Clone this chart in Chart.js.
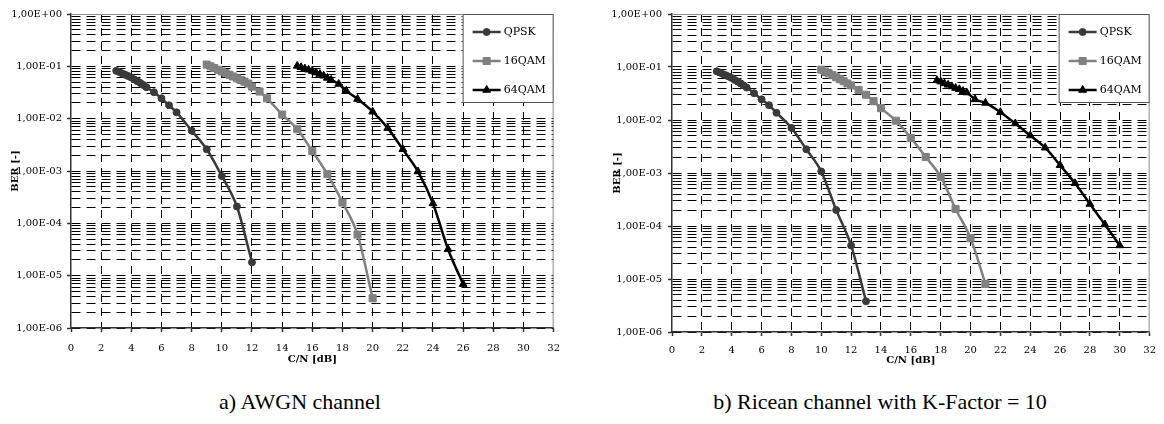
<!DOCTYPE html>
<html>
<head>
<meta charset="utf-8">
<script src="https://cdn.jsdelivr.net/npm/chart.js@4.4.0/dist/chart.umd.min.js"></script>
<style>
  body { margin: 0; background: #fff; width: 1164px; height: 424px; position: relative; overflow: hidden; }
  .panel { position: absolute; top: 0; }
  .caption { position: absolute; top: 389px; font-family: "Liberation Serif", serif; font-size: 22px; line-height: 26px; color: #000; text-align: center; white-space: nowrap; }
</style>
</head>
<body>
<div class="panel" style="left:0"><canvas id="chartA" width="570" height="365"></canvas></div>
<div class="panel" style="left:600px"><canvas id="chartB" width="564" height="366"></canvas></div>
<div class="caption" style="left:100px;width:400px">a) AWGN channel</div>
<div class="caption" style="left:680px;width:400px">b) Ricean channel with K-Factor = 10</div>

<script>
// axis ticks
const yTickValues = [1e-6, 1e-5, 1e-4, 1e-3, 1e-2, 1e-1, 1];
const yTickLabels = ['1,00E-06', '1,00E-05', '1,00E-04', '1,00E-03', '1,00E-02', '1,00E-01', '1,00E+00'];
const seriesNames = ['QPSK', '16QAM', '64QAM'];

// a) AWGN channel
const qpskA_x = [3, 3.2, 3.4, 3.6, 3.8, 4, 4.2, 4.4, 4.6, 4.8, 5, 5.5, 6, 6.5, 7, 8, 9, 10, 11, 12];
const qpskA_y = [0.082, 0.078, 0.073, 0.069, 0.065, 0.061, 0.056, 0.052, 0.048, 0.044, 0.040, 0.032, 0.0245, 0.018, 0.0132, 0.0059, 0.0026, 0.0008, 0.00021, 0.000018];
const qam16A_x = [9, 9.25, 9.5, 9.75, 10, 10.25, 10.5, 10.75, 11, 11.25, 11.5, 11.75, 12, 12.5, 13, 14, 15, 16, 17, 18, 19, 20];
const qam16A_y = [0.108, 0.100, 0.093, 0.086, 0.080, 0.074, 0.069, 0.064, 0.059, 0.055, 0.051, 0.047, 0.041, 0.033, 0.0245, 0.012, 0.0063, 0.0024, 0.00087, 0.00025, 0.000061, 0.0000037];
const qam64A_x = [15, 15.25, 15.5, 15.75, 16, 16.25, 16.5, 16.75, 17, 17.25, 17.75, 18.25, 19, 20, 21, 22, 23, 24, 25, 26];
const qam64A_y = [0.102, 0.096, 0.091, 0.086, 0.081, 0.076, 0.071, 0.066, 0.060, 0.055, 0.046, 0.034, 0.0237, 0.0136, 0.0066, 0.0026, 0.00098, 0.00024, 0.000032, 0.0000069];

// b) Ricean channel, K = 10
const qpskB_x = [3, 3.2, 3.4, 3.6, 3.8, 4, 4.2, 4.4, 4.6, 4.8, 5, 5.5, 6, 6.5, 7, 8, 9, 10, 11, 12, 13];
const qpskB_y = [0.083, 0.079, 0.074, 0.070, 0.066, 0.062, 0.057, 0.053, 0.049, 0.045, 0.041, 0.032, 0.0245, 0.019, 0.0137, 0.0071, 0.0028, 0.00107, 0.0002, 0.000043, 0.0000038];
const qam16B_x = [10, 10.25, 10.5, 10.75, 11, 11.25, 11.5, 11.75, 12, 12.5, 13, 13.5, 14, 15, 16, 17, 18, 19, 20, 21];
const qam16B_y = [0.089, 0.082, 0.076, 0.070, 0.064, 0.059, 0.054, 0.049, 0.045, 0.037, 0.030, 0.0227, 0.0167, 0.0097, 0.0046, 0.0020, 0.00085, 0.00021, 0.000059, 0.0000081];
const qam64B_x = [17.75, 18, 18.25, 18.5, 18.75, 19, 19.25, 19.5, 19.75, 20.3, 21, 22, 23, 24, 25, 26, 27, 28, 29, 30];
const qam64B_y = [0.056, 0.053, 0.049, 0.046, 0.043, 0.040, 0.038, 0.035, 0.033, 0.0245, 0.021, 0.014, 0.0086, 0.0051, 0.0030, 0.0014, 0.00064, 0.00026, 0.000107, 0.000043];

const colors = ['#3a3a3a', '#808080', '#000000'];
const markers = ['circle', 'rect', 'triangle'];
const markerSizes = [3.5, 5, 4.5];

// log grid positions 1..9 x 10^e
const yGridValues = [];
for (let e = -6; e <= 0; e++) {
    for (let m = 1; m <= 9; m++) {
        if (e === 0 && m > 1) break;
        yGridValues.push(Number((m * Math.pow(10, e)).toPrecision(3)));
    }
}

function isDecade(v) {
    return yTickValues.some(d => Math.abs(d - v) / d < 1e-6);
}

function toPoints(xs, ys) {
    return xs.map((x, i) => ({ x: x, y: ys[i] }));
}

const frame = {
    id: 'frame',
    beforeDatasetsDraw(chart) {
        const { ctx, chartArea: a } = chart;
        ctx.save();
        ctx.strokeStyle = '#8c8c8c';
        ctx.lineWidth = 1;
        ctx.beginPath();
        ctx.moveTo(a.left, a.top + 0.5);
        ctx.lineTo(a.right - 0.5, a.top + 0.5);
        ctx.lineTo(a.right - 0.5, a.bottom);
        ctx.stroke();
        ctx.restore();
    }
};

const legendBox = {
    id: 'legendBox',
    afterDatasetsDraw(chart) {
        const { ctx, chartArea } = chart;
        const w = 91, h = 89;
        const x0 = chartArea.right - w, y0 = chartArea.top;
        ctx.save();
        ctx.fillStyle = '#fff';
        ctx.fillRect(x0, y0, w, h);
        ctx.strokeStyle = '#555';
        ctx.lineWidth = 1;
        ctx.strokeRect(x0 + 0.5, y0 + 0.5, w - 1, h - 1);
        chart.data.datasets.forEach((ds, i) => {
            const y = y0 + 18 + i * 29;
            ctx.strokeStyle = ds.borderColor;
            ctx.fillStyle = ds.backgroundColor;
            ctx.lineWidth = 2.5;
            ctx.beginPath();
            ctx.moveTo(x0 + 10, y);
            ctx.lineTo(x0 + 38, y);
            ctx.stroke();
            ctx.lineWidth = 1;
            Chart.helpers.drawPoint(ctx, { pointStyle: ds.pointStyle, radius: ds.pointRadius, borderWidth: 1, rotation: 0 }, x0 + 24, y);
            ctx.fillStyle = '#000';
            ctx.font = '11px "DejaVu Serif"';
            ctx.textBaseline = 'middle';
            ctx.textAlign = 'left';
            ctx.fillText(ds.label, x0 + 41, y);
        });
        ctx.restore();
    }
};

function makeChart(id, series, box) {
    const datasets = series.map((s, i) => ({
        label: seriesNames[i],
        data: toPoints(s[0], s[1]),
        borderColor: colors[i],
        backgroundColor: colors[i],
        borderWidth: 2.5,
        pointStyle: markers[i],
        pointRadius: markerSizes[i],
        pointBorderWidth: 1,
        cubicInterpolationMode: 'monotone'
    }));
    const tickFont = { family: 'DejaVu Serif', size: 10 };
    const titleFont = { family: 'DejaVu Serif', size: 10, weight: 'bold' };
    return new Chart(document.getElementById(id).getContext('2d'), {
        type: 'line',
        data: { datasets: datasets },
        options: {
            responsive: false,
            animation: false,
            layout: { padding: box.padding },
            plugins: { legend: { display: false }, tooltip: { enabled: false } },
            scales: {
                x: {
                    type: 'linear',
                    min: 0,
                    max: 32,
                    afterFit(scale) { scale.height = box.xHeight; },
                    ticks: { stepSize: 2, padding: box.xPad, color: '#000', font: tickFont, maxRotation: 0, autoSkip: false },
                    grid: {
                        color: c => (c.tick && (c.tick.value === 0 || c.tick.value === 32)) ? 'rgba(0,0,0,0)' : '#000',
                        lineWidth: 1,
                        tickLength: 4,
                        tickColor: '#333',
                        tickWidth: 1.5
                    },
                    border: { display: true, color: '#333', width: 1.5, dash: [8, 6] },
                    title: { display: true, text: 'C/N [dB]', color: '#000', font: titleFont, padding: 0 }
                },
                y: {
                    type: 'logarithmic',
                    min: 1e-6,
                    max: 1,
                    afterBuildTicks(scale) { scale.ticks = yGridValues.map(v => ({ value: v })); },
                    afterFit(scale) { scale.width = box.yWidth; },
                    ticks: {
                        autoSkip: false,
                        padding: box.yPad,
                        color: '#000',
                        font: tickFont,
                        callback: v => {
                            const k = yTickValues.findIndex(d => Math.abs(d - v) / d < 1e-6);
                            return k >= 0 ? yTickLabels[k] : '';
                        }
                    },
                    grid: {
                        color: c => (c.tick && c.tick.value === 1) ? 'rgba(0,0,0,0)' : '#000',
                        lineWidth: 1,
                        tickLength: 4,
                        tickColor: c => (c.tick && isDecade(c.tick.value)) ? '#333' : 'rgba(0,0,0,0)',
                        tickWidth: 1.5
                    },
                    border: { display: true, color: '#333', width: 1.5, dash: [9, 6] },
                    title: { display: true, text: 'BER [-]', color: '#000', font: titleFont, padding: 0 }
                }
            }
        },
        plugins: [frame, legendBox]
    });
}

makeChart('chartA',
    [[qpskA_x, qpskA_y], [qam16A_x, qam16A_y], [qam64A_x, qam64A_y]],
    { padding: { left: 9, top: 14, right: 15, bottom: 0 }, yWidth: 62, xHeight: 37, xPad: 10, yPad: 5 });

makeChart('chartB',
    [[qpskB_x, qpskB_y], [qam16B_x, qam16B_y], [qam64B_x, qam64B_y]],
    { padding: { left: 11, top: 14, right: 11, bottom: 0 }, yWidth: 61, xHeight: 34, xPad: 8, yPad: 6 });
</script>
</body>
</html>
